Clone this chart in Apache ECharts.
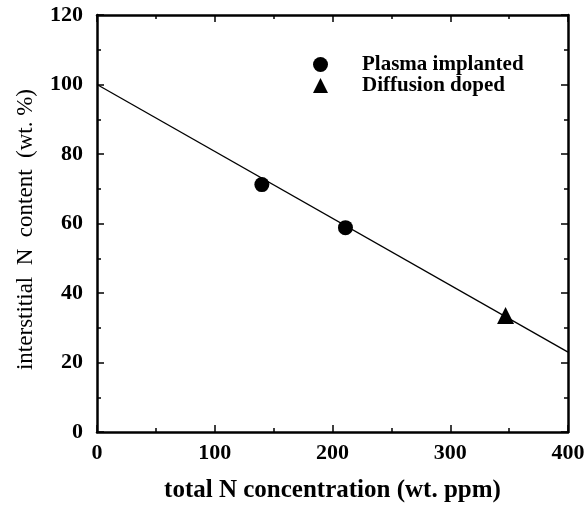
<!DOCTYPE html>
<html lang="en">
<head>
    <meta charset="UTF-8">
    <title>interstitial N</title>
    <script src="https://cdn.jsdelivr.net/npm/echarts@6/dist/echarts.min.js"></script>
</head>
<body style="margin:0;background:#fff">
<div id="main" style="width:587px;height:505px"></div>
<script type="text/javascript">
    // values
    var plasmaX = [140, 211];
    var plasmaY = [71.2, 58.8];
    var diffX = [347];
    var diffY = [33.5];
    var fitX = [0, 400];
    var fitY = [100, 23];

    var serif = '"Liberation Serif", "DejaVu Serif", serif';

    function pairs(xs, ys) {
        return xs.map(function (x, i) { return [x, ys[i]]; });
    }

    var tickStyle = {show: true, inside: true, length: 7, lineStyle: {color: '#000', width: 1.5}};
    var minorStyle = {show: true, splitNumber: 2, length: 4, lineStyle: {color: '#000', width: 1.5}};
    var lineStyle = {show: true, onZero: false, lineStyle: {color: '#000', width: 2.5}};
    var labelStyle = {color: '#000', fontFamily: serif, fontWeight: 'bold', fontSize: 22};

    const myChart = echarts.init(document.getElementById('main'));
    let option = {
        animation: false,
        backgroundColor: '#fff',
        grid: {left: 97, top: 15, width: 471, height: 417, outerBoundsMode: 'none', containLabel: false},
        legend: {
            orient: 'vertical',
            left: 308,
            top: 49,
            itemWidth: 15,
            itemHeight: 15,
            itemGap: 0,
            textStyle: {color: '#000', fontFamily: serif, fontWeight: 'bold', fontSize: 21, lineHeight: 21, padding: [0, 0, 0, 29]},
            data: [
                {name: 'Plasma implanted', icon: 'circle'},
                {name: 'Diffusion doped', icon: 'triangle'}
            ]
        },
        xAxis: [{
            type: 'value', min: 0, max: 400, interval: 100,
            name: 'total N concentration (wt. ppm)',
            nameLocation: 'middle', nameGap: 46,
            nameTextStyle: {color: '#000', fontFamily: serif, fontWeight: 'bold', fontSize: 25},
            axisLine: lineStyle, axisTick: tickStyle, minorTick: minorStyle,
            axisLabel: Object.assign({margin: 10}, labelStyle),
            splitLine: {show: false}
        }, {
            type: 'value', min: 0, max: 400, interval: 100, position: 'top',
            axisLine: lineStyle, axisTick: tickStyle, minorTick: minorStyle,
            axisLabel: {show: false}, splitLine: {show: false}
        }],
        yAxis: [{
            type: 'value', min: 0, max: 120, interval: 20,
            name: 'interstitial  N  content  (wt. %)',
            nameLocation: 'middle', nameGap: 60, nameRotate: 90,
            nameTextStyle: {color: '#000', fontFamily: serif, fontSize: 23, padding: [0, 12, 0, 0]},
            axisLine: lineStyle, axisTick: tickStyle, minorTick: minorStyle,
            axisLabel: Object.assign({margin: 14}, labelStyle),
            splitLine: {show: false}
        }, {
            type: 'value', min: 0, max: 120, interval: 20, position: 'right',
            axisLine: lineStyle, axisTick: tickStyle, minorTick: minorStyle,
            axisLabel: {show: false}, splitLine: {show: false}
        }],
        series: [{
            name: 'fit',
            type: 'line',
            data: pairs(fitX, fitY),
            showSymbol: false,
            lineStyle: {color: '#000', width: 1.3},
            z: 1
        }, {
            name: 'Plasma implanted',
            type: 'scatter',
            data: pairs(plasmaX, plasmaY),
            symbol: 'circle',
            symbolSize: 15,
            itemStyle: {color: '#000', opacity: 1},
            z: 3
        }, {
            name: 'Diffusion doped',
            type: 'scatter',
            data: pairs(diffX, diffY),
            symbol: 'triangle',
            symbolSize: 17,
            itemStyle: {color: '#000', opacity: 1},
            z: 3
        }]
    };
    option && myChart.setOption(option);
</script>
</body>
</html>
